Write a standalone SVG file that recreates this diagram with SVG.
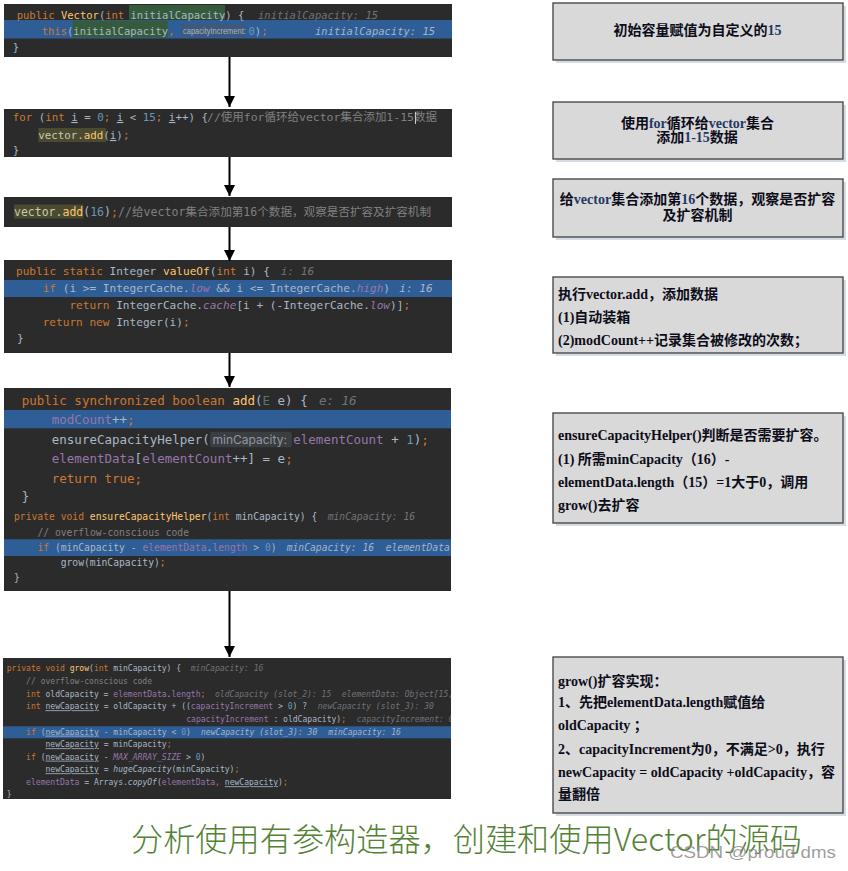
<svg xmlns="http://www.w3.org/2000/svg" width="848" height="871" viewBox="0 0 848 871">
<style>
.bg{fill:#2b2b2b}
.hlr{fill:#2f5e96}
.code{font-family:"DejaVu Sans Mono","Liberation Mono","Noto Sans CJK SC",monospace;fill:#a9b7c6;white-space:pre}
.k{fill:#cc7832}
.f{fill:#ffc66d}
.n{fill:#6897bb}
.p{fill:#9876aa}
.pi{fill:#9876aa;font-style:italic}
.it{font-style:italic}
.c{fill:#808080}
.h{fill:#6f737a;font-style:italic}
.hb{fill:#a3b4cc;font-style:italic}
.u{text-decoration:underline}
.t{fill:#507874}
.hint{font-family:Inter,Roboto,"Noto Sans",sans-serif;fill:#8e98a3}
.box{fill:#d9d9d9;stroke:#3f3f3f;stroke-width:1.3}
.shadow{fill:#b4bfce;opacity:.55}
.note{font-family:"Liberation Serif","Noto Sans CJK SC",serif;font-weight:bold;font-size:14px;fill:#0d0d1a}
.en{fill:#1f3864}
.conn{stroke:#000;stroke-width:2;fill:none}
</style>
<defs>
<marker id="ah" viewBox="0 0 10 10" refX="10" refY="5" markerWidth="12" markerHeight="11" markerUnits="userSpaceOnUse" orient="auto"><path d="M0,0 L10,5 L0,10 z" fill="#000"/></marker>
<clipPath id="c1"><rect x="4" y="4" width="448" height="53"/></clipPath>
<clipPath id="c5"><rect x="4" y="388" width="447" height="203"/></clipPath>
<clipPath id="c6"><rect x="3" y="658" width="448" height="141"/></clipPath>
</defs>

<g id="code-constructor" clip-path="url(#c1)">
<rect class="bg" x="4" y="4" width="448" height="53"/>
<rect class="hlr" x="4" y="20" width="448" height="18.5"/>
<rect x="129" y="5" width="96" height="14.5" fill="#355b3c"/>
<rect x="72.7" y="20.7" width="95" height="16.8" fill="#355b3c"/>
<text class="code" font-size="10.5" x="16.7" y="18.5"><tspan class="k">public </tspan><tspan class="f">Vector</tspan>(<tspan class="k">int </tspan>initialCapacity) {</text>
<text class="code h" font-size="10.5" x="258" y="18.5">initialCapacity: 15</text>
<text class="code" font-size="10.5" x="41.7" y="34.5"><tspan class="k">this</tspan>(initialCapacity<tspan class="k">,</tspan></text>
<rect x="181.5" y="24" width="64" height="12.5" rx="2" fill="#40587a"/>
<text transform="translate(183 33.5) scale(1 1.25)" x="0" y="0" font-family="'Liberation Sans',Arial,sans-serif" font-size="7.5" fill="#a7b5c5">capacityIncrement:</text>
<text class="code" font-size="10.5" x="248.5" y="34.5"><tspan class="n">0</tspan>)<tspan class="k">;</tspan></text>
<text class="code hb" font-size="10.5" x="315" y="34.5">initialCapacity: 15</text>
<text class="code" font-size="10.5" x="12.7" y="51">}</text>
</g>

<g id="code-for-loop">
<rect class="bg" x="4" y="109" width="448" height="48"/>
<text class="code" font-size="10.8" x="12.7" y="121"><tspan class="k">for </tspan>(<tspan class="k">int </tspan><tspan class="u">i</tspan> = <tspan class="n">0</tspan><tspan class="k">; </tspan><tspan class="u">i</tspan> &lt; <tspan class="n">15</tspan><tspan class="k">; </tspan><tspan class="u">i</tspan>++) {</text>
<text class="code c" font-size="10.8" x="207" y="121" textLength="230" lengthAdjust="spacingAndGlyphs">//使用for循环给vector集合添加1-15数据</text>
<line x1="415.5" y1="112" x2="415.5" y2="124" stroke="#c8c8c8" stroke-width="1"/>
<rect x="38.3" y="128" width="67.7" height="14" fill="#4a4a30"/>
<text class="code" font-size="10.8" x="38.3" y="139"><tspan fill="#c9c9b0">vector.</tspan><tspan class="f">add</tspan>(<tspan class="u">i</tspan>)<tspan class="k">;</tspan></text>
<text class="code" font-size="10.8" x="12.7" y="154">}</text>
</g>

<g id="code-add16">
<rect class="bg" x="4" y="197" width="448" height="30"/>
<rect x="14" y="204.5" width="69.3" height="14" fill="#4a4a30"/>
<text class="code" font-size="11.5" x="14" y="215.5"><tspan fill="#c9c9b0">vector.</tspan><tspan class="f">add</tspan>(<tspan class="n">16</tspan>)<tspan class="k">;</tspan></text>
<text class="code c" font-size="11.5" x="118" y="215.5" textLength="313" lengthAdjust="spacingAndGlyphs">//给vector集合添加第16个数据，观察是否扩容及扩容机制</text>
</g>

<g id="code-valueOf">
<rect class="bg" x="4" y="260" width="448" height="93"/>
<rect class="hlr" x="4" y="280" width="448" height="17"/>
<text class="code" font-size="11.1" x="16" y="275"><tspan class="k">public static </tspan>Integer <tspan class="f">valueOf</tspan>(<tspan class="k">int </tspan>i) {</text>
<text class="code h" font-size="11.1" x="280.7" y="275">i: 16</text>
<text class="code" font-size="11.1" x="42.7" y="292"><tspan class="k">if </tspan>(i &gt;= IntegerCache.<tspan class="pi">low</tspan> &amp;&amp; i &lt;= IntegerCache.<tspan class="pi">high</tspan>)</text>
<text class="code hb" font-size="11.1" x="399.3" y="292">i: 16</text>
<text class="code" font-size="11.1" x="69.4" y="309"><tspan class="k">return </tspan>IntegerCache.<tspan class="pi">cache</tspan>[i + (-IntegerCache.<tspan class="pi">low</tspan>)]<tspan class="k">;</tspan></text>
<text class="code" font-size="11.1" x="42.7" y="325.5"><tspan class="k">return new </tspan>Integer(i)<tspan class="k">;</tspan></text>
<text class="code" font-size="11.1" x="17" y="342">}</text>
</g>

<g id="code-add" clip-path="url(#c5)">
<rect class="bg" x="4" y="388" width="448" height="203"/>
<rect class="hlr" x="4" y="410" width="448" height="18.3"/>
<text class="code" font-size="12.5" x="21.7" y="404.5"><tspan class="k">public synchronized boolean </tspan><tspan class="f">add</tspan>(<tspan class="t">E</tspan> e) {</text>
<text class="code h" font-size="12.5" x="319" y="404.5">e: 16</text>
<text class="code" font-size="12.5" x="51.8" y="424"><tspan class="p">modCount</tspan>++<tspan class="k">;</tspan></text>
<text class="code" font-size="12.5" x="51.8" y="443.5">ensureCapacityHelper(</text>
<rect x="210" y="431.7" width="81.7" height="15.6" rx="2" fill="#3b3e41"/>
<text class="hint" font-size="12" x="212.5" y="444">minCapacity:</text>
<text class="code" font-size="12.5" x="293.3" y="443.5"><tspan class="p">elementCount</tspan> + <tspan class="n">1</tspan>)<tspan class="k">;</tspan></text>
<text class="code" font-size="12.5" x="51.8" y="463"><tspan class="p">elementData</tspan>[<tspan class="p">elementCount</tspan>++] = e<tspan class="k">;</tspan></text>
<text class="code k" font-size="12.5" x="51.8" y="483">return true;</text>
<text class="code" font-size="12.5" x="21.7" y="500.5">}</text>
<rect class="hlr" x="4" y="539.3" width="448" height="16.7"/>
<text class="code" font-size="9.7" x="14" y="519.5"><tspan class="k">private void </tspan><tspan class="f">ensureCapacityHelper</tspan>(<tspan class="k">int </tspan>minCapacity) {</text>
<text class="code h" font-size="9.7" x="327.7" y="519.5">minCapacity: 16</text>
<text class="code c" font-size="9.7" x="37.4" y="536">// overflow-conscious code</text>
<text class="code" font-size="9.7" x="37.4" y="551"><tspan class="k">if </tspan>(minCapacity - <tspan class="p">elementData</tspan>.<tspan class="p">length</tspan> &gt; <tspan class="n">0</tspan>)</text>
<text class="code hb" font-size="9.7" x="286.7" y="551">minCapacity: 16</text>
<text class="code hb" font-size="9.7" x="385.7" y="551">elementData</text>
<text class="code" font-size="9.7" x="60.7" y="566">grow(minCapacity)<tspan class="k">;</tspan></text>
<text class="code" font-size="9.7" x="14" y="581">}</text>
</g>

<g id="code-grow" clip-path="url(#c6)">
<rect class="bg" x="3" y="658" width="448" height="141"/>
<rect class="hlr" x="3" y="726.3" width="448" height="12"/>
<text class="code" font-size="8.05" x="6.7" y="671.3"><tspan class="k">private void </tspan><tspan class="f">grow</tspan>(<tspan class="k">int </tspan>minCapacity) {</text>
<text class="code h" font-size="8.05" x="190.7" y="671.3">minCapacity: 16</text>
<text class="code c" font-size="8.05" x="26.1" y="683.7">// overflow-conscious code</text>
<text class="code" font-size="8.05" x="26.1" y="696.7"><tspan class="k">int </tspan>oldCapacity = <tspan class="p">elementData</tspan>.<tspan class="p">length</tspan><tspan class="k">;</tspan></text>
<text class="code h" font-size="8.05" x="215" y="696.7">oldCapacity (slot_2): 15</text>
<text class="code h" font-size="8.05" x="341.7" y="696.7">elementData: Object[15,</text>
<text class="code" font-size="8.05" x="26.1" y="709.3"><tspan class="k">int </tspan><tspan class="u">newCapacity</tspan> = oldCapacity + ((<tspan class="p">capacityIncrement</tspan> &gt; <tspan class="n">0</tspan>) ?</text>
<text class="code h" font-size="8.05" x="317.7" y="709.3">newCapacity (slot_3): 30</text>
<text class="code" font-size="8.05" x="186.2" y="722"><tspan class="p">capacityIncrement</tspan> : oldCapacity)<tspan class="k">;</tspan></text>
<text class="code h" font-size="8.05" x="356.7" y="722">capacityIncrement: 0</text>
<text class="code" font-size="8.05" x="26.1" y="734.7"><tspan class="k">if </tspan>(<tspan class="u">newCapacity</tspan> - minCapacity &lt; <tspan class="n">0</tspan>)</text>
<text class="code hb" font-size="8.05" x="201" y="734.7">newCapacity (slot_3): 30</text>
<text class="code hb" font-size="8.05" x="328.3" y="734.7">minCapacity: 16</text>
<text class="code" font-size="8.05" x="45.5" y="747.3"><tspan class="u">newCapacity</tspan> = minCapacity<tspan class="k">;</tspan></text>
<text class="code" font-size="8.05" x="26.1" y="759.7"><tspan class="k">if </tspan>(<tspan class="u">newCapacity</tspan> - <tspan class="pi">MAX_ARRAY_SIZE</tspan> &gt; <tspan class="n">0</tspan>)</text>
<text class="code" font-size="8.05" x="45.5" y="772.3"><tspan class="u">newCapacity</tspan> = <tspan class="it">hugeCapacity</tspan>(minCapacity)<tspan class="k">;</tspan></text>
<text class="code" font-size="8.05" x="26.1" y="785.3"><tspan class="p">elementData</tspan> = Arrays.<tspan class="it">copyOf</tspan>(<tspan class="p">elementData</tspan><tspan class="k">, </tspan><tspan class="u">newCapacity</tspan>)<tspan class="k">;</tspan></text>
<text class="code" font-size="8.05" x="6.7" y="797.3">}</text>
</g>

<g id="connectors">
<line class="conn" x1="229.5" y1="57" x2="229.5" y2="107" marker-end="url(#ah)"/>
<line class="conn" x1="229.5" y1="157" x2="229.5" y2="196" marker-end="url(#ah)"/>
<line class="conn" x1="229.5" y1="227" x2="229.5" y2="261" marker-end="url(#ah)"/>
<line class="conn" x1="229.5" y1="353" x2="229.5" y2="387" marker-end="url(#ah)"/>
<line class="conn" x1="229.5" y1="591" x2="229.5" y2="657" marker-end="url(#ah)"/>
</g>

<g id="note-1">
<rect class="shadow" x="556" y="6" width="290" height="57"/>
<rect class="box" x="553" y="3" width="290" height="57"/>
<text class="note" x="697.5" y="35" text-anchor="middle">初始容量赋值为自定义的<tspan class="en">15</tspan></text>
</g>

<g id="note-2">
<rect class="shadow" x="556" y="105" width="290" height="57"/>
<rect class="box" x="553" y="102" width="290" height="57"/>
<text class="note" x="697.5" y="128" text-anchor="middle">使用<tspan class="en">for</tspan>循环给<tspan class="en">vector</tspan>集合</text>
<text class="note" x="697" y="142" text-anchor="middle">添加<tspan class="en">1-15</tspan>数据</text>
</g>

<g id="note-3">
<rect class="shadow" x="556" y="182" width="290" height="58"/>
<rect class="box" x="553" y="179" width="290" height="58"/>
<text class="note" x="697.5" y="204" text-anchor="middle">给<tspan class="en">vector</tspan>集合添加第<tspan class="en">16</tspan>个数据，观察是否扩容</text>
<text class="note" x="697.5" y="220" text-anchor="middle">及扩容机制</text>
</g>

<g id="note-4">
<rect class="shadow" x="556" y="280" width="290" height="76"/>
<rect class="box" x="553" y="277" width="290" height="76"/>
<text class="note" x="558" y="299">执行vector.add，添加数据</text>
<text class="note" x="558" y="321.5">(1)自动装箱</text>
<text class="note" x="558" y="345">(2)modCount++记录集合被修改的次数；</text>
</g>

<g id="note-5">
<rect class="shadow" x="556" y="416" width="290" height="110"/>
<rect class="box" x="553" y="413" width="290" height="110"/>
<text class="note" x="558" y="440">ensureCapacityHelper()判断是否需要扩容。</text>
<text class="note" x="558" y="464">(1) 所需minCapacity（16）-</text>
<text class="note" x="558" y="487">elementData.length（15）=1大于0，调用</text>
<text class="note" x="558" y="510">grow()去扩容</text>
</g>

<g id="note-6">
<rect class="shadow" x="556" y="660" width="290" height="156"/>
<rect class="box" x="553" y="657" width="290" height="156"/>
<text class="note" x="558" y="685.5">grow()扩容实现：</text>
<text class="note" x="558" y="706.5">1、先把elementData.length赋值给</text>
<text class="note" x="558" y="730">oldCapacity ；</text>
<text class="note" x="558" y="754">2、capacityIncrement为0，不满足&gt;0，执行</text>
<text class="note" x="558" y="776.5">newCapacity = oldCapacity +oldCapacity，容</text>
<text class="note" x="558" y="799">量翻倍</text>
</g>

<g id="title">
<text x="131" y="851" font-family="'Noto Sans CJK SC','Liberation Serif',sans-serif" font-weight="300" font-size="32" fill="#548235" textLength="671" lengthAdjust="spacingAndGlyphs">分析使用有参构造器，创建和使用Vector的源码</text>
</g>

<g id="watermark">
<text x="670" y="858" font-family="'Liberation Sans',Arial,sans-serif" font-size="17" fill="#8c8c8c" fill-opacity="0.85" textLength="166" lengthAdjust="spacingAndGlyphs">CSDN @proud dms</text>
</g>
</svg>
